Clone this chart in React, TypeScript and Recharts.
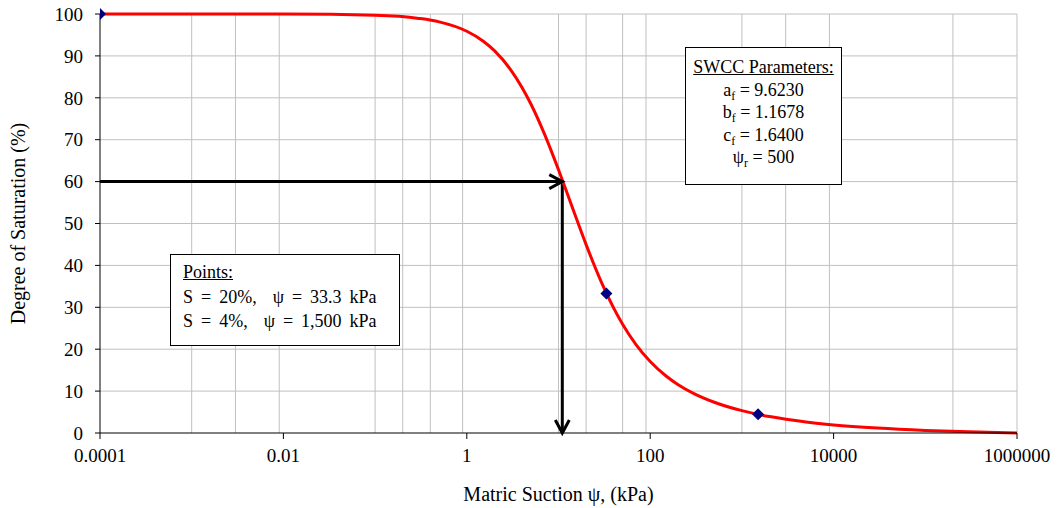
import { ComposedChart, Line, Scatter, XAxis, YAxis, CartesianGrid } from "recharts";

// SWCC curve (matric suction kPa, degree of saturation %)
const suction = [
  0.0001, 0.001, 0.01, 0.1, 0.3, 0.5, 1, 1.5, 2, 3, 4, 5, 7, 10, 15, 20, 30, 40, 50, 70, 100, 150, 200, 300, 500,
  1000, 1500, 2000, 5000, 10000, 30000, 100000, 300000, 1000000,
];
const saturation = [
  100, 100, 99.98, 99.7, 98.95, 98.12, 95.88, 93.57, 91.25, 86.73, 82.47, 78.51, 71.45, 62.83, 52.31, 44.96, 35.53,
  29.8, 25.96, 21.11, 17.06, 13.55, 11.6, 9.41, 7.34, 5.33, 4.45, 3.92, 2.63, 1.93, 1.17, 0.61, 0.27, 0,
];

// diamond markers
const pointSuction = [0.0001, 33.3, 1500];
const pointSaturation = [100, 33.3, 4.45];

// arrow path: from y axis at 60% to the curve, then down to the x axis
const arrowSuction = [0.0001, 11, 11];
const arrowSaturation = [60, 60, 0];

const xTicks = [0.0001, 0.01, 1, 100, 10000, 1000000];
const yTicks = [0, 10, 20, 30, 40, 50, 60, 70, 80, 90, 100];
// excel-style minor lines: 1..9 x (10 x each major tick)
const minorStarts = [0.001, 0.1, 10, 1000, 100000];
const minorSteps = [1, 2, 3, 4, 5, 6, 7, 8, 9];
const xGridValues = [...minorStarts.flatMap((s) => minorSteps.map((m) => +(s * m).toPrecision(3))), 1000000];

const curveData = suction.map((x, i) => ({ x, y: saturation[i] }));
const pointData = pointSuction.map((x, i) => ({ x, y: pointSaturation[i] }));
const arrowData = arrowSuction.map((x, i) => ({ x, y: arrowSaturation[i] }));

const FONT = "'Liberation Serif', 'Times New Roman', serif";

const Diamond = (props: any) => {
  const { cx, cy } = props;
  return <path d={`M${cx},${cy - 6}L${cx + 6},${cy}L${cx},${cy + 6}L${cx - 6},${cy}Z`} fill="#000080" />;
};

const ArrowHead = (props: any) => {
  const { cx, cy, index } = props;
  if (index === 1) {
    return (
      <path
        key="ah1"
        d={`M${cx - 13},${cy - 7}L${cx},${cy}L${cx - 13},${cy + 7}`}
        fill="none"
        stroke="#000"
        strokeWidth={3}
      />
    );
  }
  if (index === 2) {
    return (
      <path
        key="ah2"
        d={`M${cx - 7},${cy - 13}L${cx},${cy}L${cx + 7},${cy - 13}`}
        fill="none"
        stroke="#000"
        strokeWidth={3}
      />
    );
  }
  return <g key={`ah${index}`} />;
};

const YTitle = (props: any) => {
  const { viewBox } = props;
  const x = 18;
  const y = viewBox.y + viewBox.height / 2;
  return (
    <text x={x} y={y} transform={`rotate(-90 ${x} ${y})`} textAnchor="middle" dominantBaseline="central" fontSize={20} fill="#000">
      Degree of Saturation (%)
    </text>
  );
};

const Sub = ({ children }: { children: string }) => (
  <span style={{ fontSize: 12, verticalAlign: -4, lineHeight: 0 }}>{children}</span>
);

export default function App() {
  return (
    <div style={{ position: "absolute", left: 0, top: 0, width: 1057, height: 508, fontFamily: FONT, background: "#fff" }}>
      <ComposedChart width={1057} height={508} margin={{ top: 14, right: 40, bottom: 0, left: 0 }}>
        <CartesianGrid
          stroke="#c0c0c0"
          verticalValues={xGridValues}
          horizontalValues={yTicks.slice(1)}
        />
        <XAxis
          dataKey="x"
          type="number"
          scale="log"
          domain={[0.0001, 1000000]}
          ticks={xTicks}
          tickFormatter={(v: number) => String(v)}
          allowDataOverflow
          height={75}
          stroke="#000"
          tickSize={6}
          tickMargin={10}
          tick={{ fill: "#000", fontSize: 19, fontFamily: FONT }}
          label={{ value: "Matric Suction ψ, (kPa)", position: "insideBottom", offset: 7, fill: "#000", fontSize: 20, fontFamily: FONT }}
        />
        <YAxis
          dataKey="y"
          type="number"
          domain={[0, 100]}
          ticks={yTicks}
          width={100}
          stroke="#000"
          tickSize={5}
          tickMargin={12}
          tick={{ fill: "#000", fontSize: 19, fontFamily: FONT }}
          label={{ content: YTitle }}
        />
        <Line
          data={arrowData}
          dataKey="y"
          type="linear"
          stroke="#000"
          strokeWidth={3}
          dot={ArrowHead}
          activeDot={false}
          isAnimationActive={false}
        />
        <Line
          data={curveData}
          dataKey="y"
          type="monotone"
          stroke="#ff0000"
          strokeWidth={3}
          dot={false}
          activeDot={false}
          isAnimationActive={false}
        />
        <Scatter data={pointData} dataKey="y" shape={Diamond} isAnimationActive={false} />
      </ComposedChart>

      <div
        style={{
          position: "absolute",
          left: 685,
          top: 47,
          width: 157,
          height: 138,
          boxSizing: "border-box",
          border: "1.5px solid #000",
          background: "#fff",
          textAlign: "center",
          fontSize: 18,
          lineHeight: "22.5px",
          paddingTop: 8,
          color: "#000",
        }}
      >
        <div style={{ textDecoration: "underline" }}>SWCC Parameters:</div>
        <div>
          a<Sub>f</Sub> = 9.6230
        </div>
        <div>
          b<Sub>f</Sub> = 1.1678
        </div>
        <div>
          c<Sub>f</Sub> = 1.6400
        </div>
        <div>
          ψ<Sub>r</Sub> = 500
        </div>
      </div>

      <div
        style={{
          position: "absolute",
          left: 170,
          top: 254,
          width: 230,
          height: 92,
          boxSizing: "border-box",
          border: "1.5px solid #000",
          background: "#fff",
          fontSize: 18,
          lineHeight: "24.5px",
          paddingTop: 5,
          paddingLeft: 12,
          color: "#000",
          whiteSpace: "pre",
        }}
      >
        <div style={{ textDecoration: "underline" }}>Points:</div>
        <div style={{ wordSpacing: 3.5 }}>S = 20%,  ψ = 33.3 kPa</div>
        <div style={{ wordSpacing: 3.5 }}>S = 4%,  ψ = 1,500 kPa</div>
      </div>
    </div>
  );
}
